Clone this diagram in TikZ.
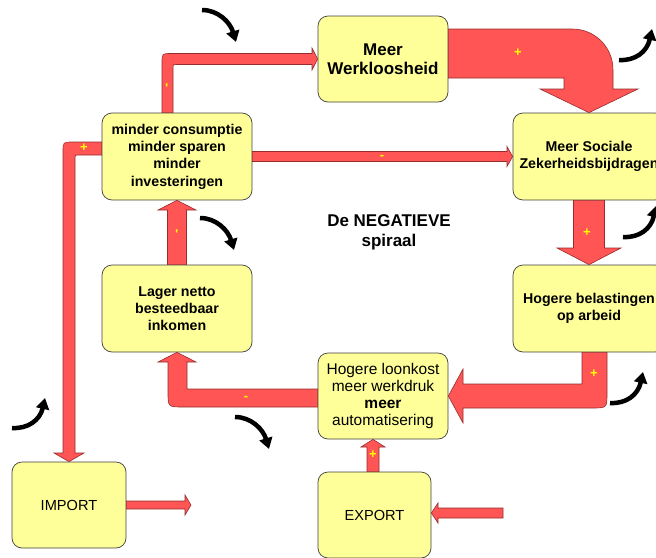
\documentclass[tikz,border=0pt]{standalone}
\usepackage{fontspec}
\setmainfont{Liberation Sans}
\usetikzlibrary{arrows.meta}
\definecolor{boxyellow}{RGB}{255,255,153}
\definecolor{arrowred}{RGB}{255,85,85}
\definecolor{arrowedge}{RGB}{150,45,45}
\definecolor{signyellow}{RGB}{255,255,0}
\begin{document}
\begin{tikzpicture}[x=1pt,y=-1pt,
  box/.style={draw=black!75, line width=0.7pt, fill=boxyellow, rounded corners=10pt,
    align=center, inner sep=2pt, font=\fontsize{14.2}{17.3}\selectfont\bfseries},
  blockarrow/.style={fill=arrowred, draw=arrowedge, line width=0.6pt, line join=miter},
  sign/.style={text=signyellow, font=\fontsize{13}{13}\selectfont\bfseries, inner sep=0pt},
  curvy/.style={line width=4.5pt, -{Triangle[length=11pt,width=13pt]}}]

\useasboundingbox (0,0) rectangle (656,557);

% boxes
\node[box, minimum width=130pt, minimum height=86pt, font=\fontsize{17}{19.5}\selectfont\bfseries] (werk) at (383,59) {Meer\\Werkloosheid};
\node[box, minimum width=150pt, minimum height=87pt] (cons) at (177,156.5) {minder consumptie\\minder sparen\\minder\\investeringen};
\node[box, minimum width=152pt, minimum height=87pt] (soc) at (589,156.5) {Meer Sociale\\Zekerheidsbijdragen};
\node[box, minimum width=152pt, minimum height=87pt] (bel) at (589,308.5) {Hogere belastingen\\op arbeid};
\node[box, minimum width=150pt, minimum height=87pt] (lager) at (177,308.5) {Lager netto\\besteedbaar\\inkomen};
\node[box, minimum width=130pt, minimum height=86pt, font=\fontsize{15.5}{17.3}\selectfont] (loon) at (383,396) {Hogere loonkost\\meer werkdruk\\\textbf{meer}\\automatisering};
\node[box, minimum width=114pt, minimum height=86pt, font=\fontsize{14.6}{17}\selectfont] (imp) at (69,505) {IMPORT};
\node[box, minimum width=113pt, minimum height=86pt, font=\fontsize{14.6}{17}\selectfont] (exp) at (374.5,515) {EXPORT};

\coordinate (impout) at (191,505);
\coordinate (expin) at (503,513);

% block arrows
\draw[blockarrow] (162,0 |- cons.north) -- (162,63) .. controls (162,53.5) .. (171,53.5) -- (312,53.5) -- (312,48) -- (werk.west) -- (312,70) -- (312,64.5) -- (176,64.5) .. controls (173,64.5) .. (173,67.5) -- (173,0 |- cons.north) -- cycle;
\draw[blockarrow] (werk.east |- 0,29) -- (572,29) .. controls (595,29) and (613,47) .. (613,70) -- (613,89) -- (638,89) -- (soc.north) -- (540,89) -- (564,89) -- (564,78) -- (werk.east |- 0,78) -- cycle;
\draw[blockarrow] (cons.east |- 0,151.5) -- (507,151.5) -- (507,146.5) -- (soc.west) -- (507,166.5) -- (507,161.5) -- (cons.east |- 0,161.5) -- cycle;
\draw[blockarrow] (573.5,0 |- soc.south) -- (573.5,248) -- (557,248) -- (bel.north) -- (621,248) -- (604.5,248) -- (604.5,0 |- soc.south) -- cycle;
\draw[blockarrow] (582,0 |- bel.south) -- (582,384) -- (463,384) -- (463,369) -- (loon.east) -- (463,423) -- (463,408) -- (592,408) .. controls (607,408) .. (607,393) -- (607,0 |- bel.south) -- cycle;
\draw[blockarrow] (loon.west |- 0,389) -- (187,389) -- (187,362) -- (196,362) -- (lager.south) -- (158,362) -- (168,362) -- (168,392) .. controls (168,407) .. (183,407) -- (loon.west |- 0,407) -- cycle;
\draw[blockarrow] (167.5,0 |- lager.north) -- (167.5,210) -- (158,210) -- (cons.south) -- (196,210) -- (186.5,210) -- (186.5,0 |- lager.north) -- cycle;
\draw[blockarrow] (cons.west |- 0,142) -- (73,142) .. controls (63,142) .. (63,152) -- (63,453) -- (54,453) -- (imp.north) -- (84,453) -- (75,453) -- (75,158) .. controls (75,155) .. (78,155) -- (cons.west |- 0,155) -- cycle;
\draw[blockarrow] (imp.east |- 0,501) -- (185,501) -- (185,495) -- (impout) -- (185,515) -- (185,509) -- (imp.east |- 0,509) -- cycle;
\draw[blockarrow] (367,0 |- exp.north) -- (367,447) -- (361,447) -- (373,0 |- loon.south) -- (385,447) -- (379,447) -- (379,0 |- exp.north) -- cycle;
\draw[blockarrow] (expin |- 0,508) -- (438,508) -- (438,503) -- (exp.east |- 0,513) -- (438,523) -- (438,518) -- (expin |- 0,518) -- cycle;

% signs
\node[sign, rotate=90] (s1) at (168,85) {-};
\node[sign] (s2) at (518,53) {+};
\node[sign] (s3) at (382,157) {-};
\node[sign] (s4) at (587,233) {+};
\node[sign] (s5) at (594,374) {+};
\node[sign] (s6) at (246,398) {-};
\node[sign, rotate=90] (s7) at (178,231) {-};
\node[sign] (s8) at (84,148) {+};
\node[sign] (s9) at (373,455) {+};

% title
\node[font=\fontsize{17}{20}\selectfont\bfseries, align=center] (title) at (389,232) {De NEGATIEVE\\spiraal};

% black curved arrows
\draw[curvy] (202,10) .. controls (218,10) and (230,22) .. (236,42);
\draw[curvy] (200,218) .. controls (216,218) and (228,230) .. (234,250);
\draw[curvy] (235,417) .. controls (251,417) and (263,429) .. (269,449);
\draw[curvy] (12,428) .. controls (28,429) and (40,420) .. (45,398);
\draw[curvy] (619,60) .. controls (635,61) and (647,52) .. (652,29);
\draw[curvy] (623,237) .. controls (639,238) and (651,229) .. (656,206);
\draw[curvy] (610,403) .. controls (626,404) and (638,395) .. (643,372);
\end{tikzpicture}
\end{document}
